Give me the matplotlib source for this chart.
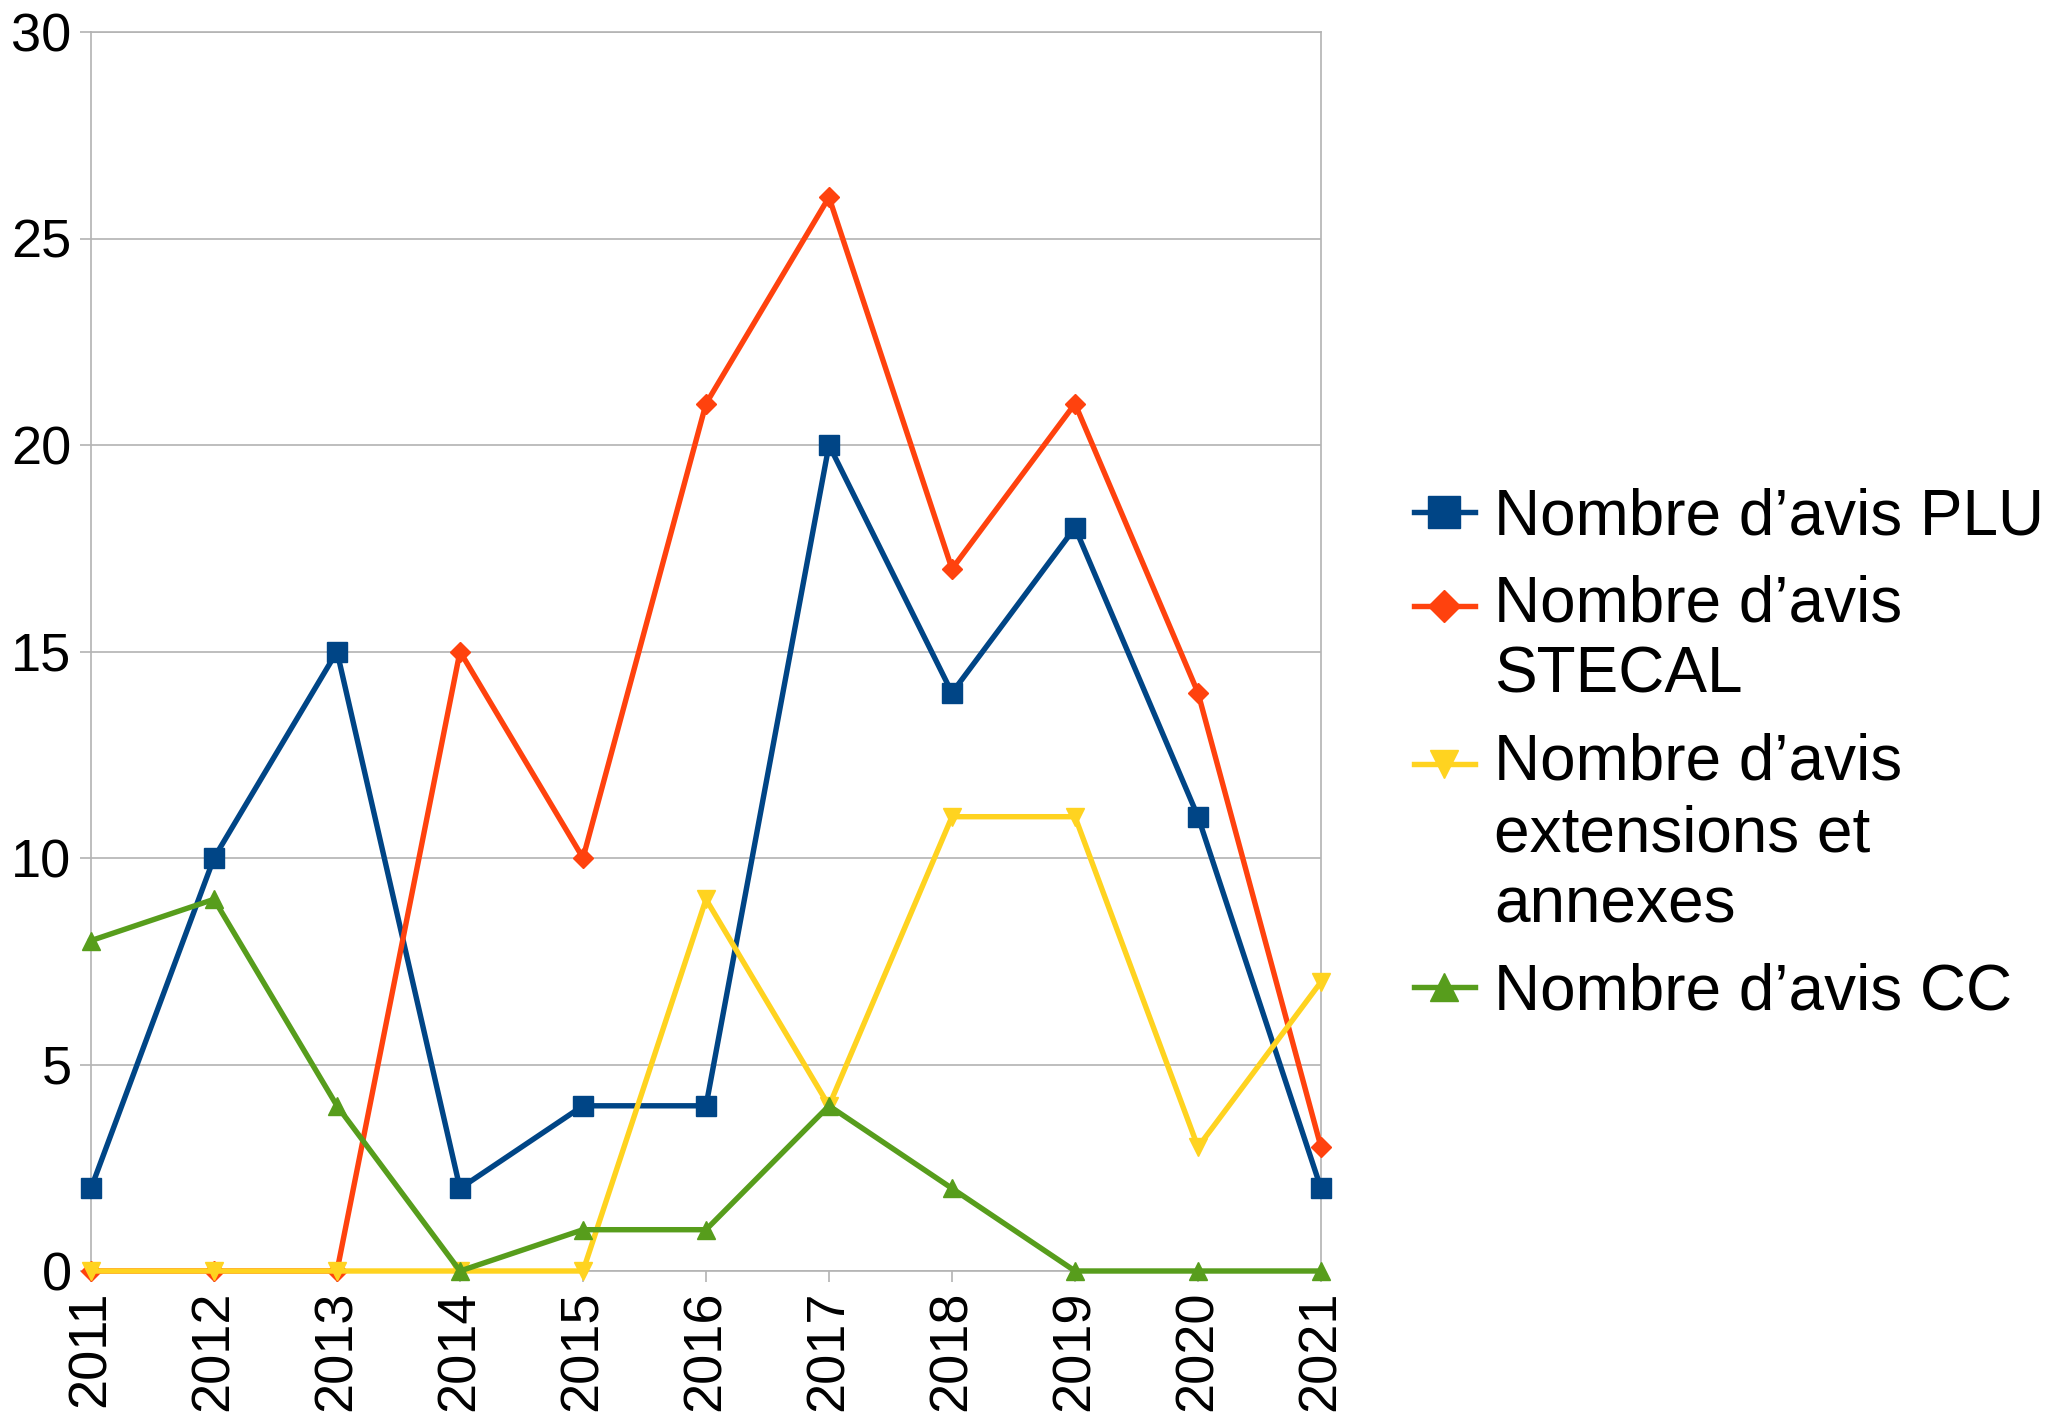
import matplotlib
matplotlib.use("Agg")
import matplotlib.pyplot as plt
from matplotlib.transforms import Affine2D

plt.rcParams['font.family'] = ['Liberation Sans', 'DejaVu Sans']

years = ["2011", "2012", "2013", "2014", "2015", "2016",
         "2017", "2018", "2019", "2020", "2021"]

avis_plu = [2, 10, 15, 2, 4, 4, 20, 14, 18, 11, 2]
avis_stecal = [0, 0, 0, 15, 10, 21, 26, 17, 21, 14, 3]
avis_ext = [0, 0, 0, 0, 0, 9, 4, 11, 11, 3, 7]
avis_cc = [8, 9, 4, 0, 1, 1, 4, 2, 0, 0, 0]

labels = ["Nombre d\u2019avis PLU",
          "Nombre d\u2019avis\nSTECAL",
          "Nombre d\u2019avis\nextensions et\nannexes",
          "Nombre d\u2019avis CC"]

fig = plt.figure(figsize=(20.45, 14.13), dpi=100)
ax = fig.add_axes([91 / 2045, 1 - 1271 / 1413, 1230 / 2045, 1239 / 1413])

x = range(len(years))
lw = 3.9
ax.plot(x, avis_plu, color="#004586", lw=lw, marker="s", ms=14, label=labels[0], clip_on=False, zorder=3)
ax.plot(x, avis_stecal, color="#ff420e", lw=lw, marker="D", ms=10, label=labels[1], clip_on=False, zorder=4)
ax.plot(x, avis_ext, color="#ffd320", lw=lw, marker="v", ms=13, label=labels[2], clip_on=False, zorder=5)
ax.plot(x, avis_cc, color="#579d1c", lw=lw, marker="^", ms=13, label=labels[3], clip_on=False, zorder=6)

ax.set_xlim(0, len(years) - 1)
ax.set_ylim(0, 30)
ax.set_yticks(range(0, 31, 5))
ax.set_xticks(list(x))
ax.set_xticklabels(years, rotation=90)

ax.grid(axis="y", color="#b3b3b3", lw=1.2)
ax.set_axisbelow(True)
for s in ax.spines.values():
    s.set_color("#b3b3b3")
    s.set_linewidth(1.2)
ax.tick_params(axis="both", colors="#b3b3b3", labelcolor="black",
               labelsize=39, length=8, width=1.2, pad=6)

leg = ax.legend(loc="center left", bbox_to_anchor=(1414 / 2045, 1 - 755 / 1413),
                bbox_transform=fig.transFigure, frameon=False, fontsize=46,
                markerscale=1.6, handlelength=0.95, handletextpad=0.3,
                labelspacing=0.42, borderaxespad=0, borderpad=0)
for t in leg.get_texts():
    t.set_linespacing(1.24)

# put the key of multi-line entries on the first line, like the original
line_step = 71
for handle, label in zip(leg.legend_handles, labels):
    n = label.count("\n")
    if n:
        handle.set_transform(handle.get_transform() +
                             Affine2D().translate(0, n * line_step / 2))

fig.savefig("out.png", dpi=100)
